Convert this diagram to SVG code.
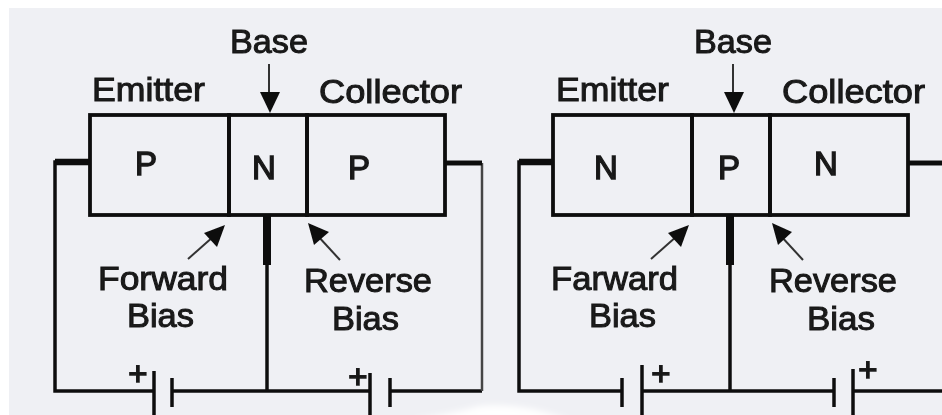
<svg xmlns="http://www.w3.org/2000/svg" width="942" height="415" viewBox="0 0 942 415">
<style>
.w{fill:none;stroke:#111;stroke-width:3.5}
.b{fill:none;stroke:#111;stroke-width:3.8}
.t{font-family:"Liberation Sans",Arial,sans-serif;font-size:33px;fill:#1a1a1a;stroke:#1a1a1a;stroke-width:1;text-anchor:middle}
.s{stroke-width:1.4;font-size:33px}
.h{fill:#111}
.a{stroke:#333;stroke-width:2;fill:none}
</style>
<defs>
<filter id="bl" x="-10%" y="-10%" width="120%" height="120%"><feGaussianBlur stdDeviation="0.5"/></filter>
<filter id="sw" x="-10%" y="-50%" width="120%" height="200%"><feGaussianBlur stdDeviation="3"/></filter>
</defs>
<rect width="942" height="415" fill="#fff"/>
<rect x="9" y="8" width="933" height="407" fill="#eff0f4"/>
<path d="M410 420 Q450 414 480 406 Q520 402 570 420Z" fill="#fff" filter="url(#sw)"/>
<g filter="url(#bl)">
<g id="connectors">
<path class="w" d="M90 162H55V391H153M172 391H371M390 391H482"/>
<path d="M482 391V163" fill="none" stroke="#444" stroke-width="2.500"/>
<path d="M55 162H90" stroke="#111" stroke-width="6.5" fill="none"/>
<path class="w" d="M267 215V391"/>
<path d="M267 215V265" stroke="#111" stroke-width="8" fill="none"/>
<path d="M269 64V95" class="a"/><path class="h" d="M260 92H280L270 113Z"/>
<path d="M188 259L214 236" class="a"/><path class="h" d="M225 225L204 233L217 247Z"/>
<path d="M340 260L317 235" class="a"/><path class="h" d="M308 223L314 245L329 232Z"/>
<path class="w" d="M553 162H519V391H622M642 391H834M853 391H942"/>
<path d="M519 162H553" stroke="#111" stroke-width="6.5" fill="none"/>
<path class="w" d="M908 163H942" style="stroke-width:5"/>
<path class="w" d="M445 163H482" style="stroke-width:5"/>
<path class="w" d="M730 215V391"/>
<path d="M730 215V265" stroke="#111" stroke-width="8" fill="none"/>
<path d="M733 64V95" class="a"/><path class="h" d="M724 92H744L734 113Z"/>
<path d="M651 259L677 236" class="a"/><path class="h" d="M689 225L668 233L681 247Z"/>
<path d="M803 260L780 235" class="a"/><path class="h" d="M772 223L778 245L792 232Z"/>
</g>
<g id="left-emitter"><rect x="90" y="115" width="139" height="100" class="b"/><text class="t s" x="146" y="175">P</text><text class="t" x="148.500" y="101" textLength="113" lengthAdjust="spacingAndGlyphs">Emitter</text></g>
<g id="left-base"><rect x="229" y="115" width="78" height="100" class="b"/><text class="t s" x="264" y="179">N</text><text class="t" x="269" y="53" textLength="78" lengthAdjust="spacingAndGlyphs">Base</text></g>
<g id="left-collector"><rect x="307" y="115" width="138" height="100" class="b"/><text class="t s" x="359" y="179">P</text><text class="t" x="390.500" y="103" textLength="143" lengthAdjust="spacingAndGlyphs">Collector</text></g>
<g id="left-forward-bias"><text class="t" x="163" y="290" textLength="130" lengthAdjust="spacingAndGlyphs">Forward</text><text class="t" x="160.500" y="327" textLength="67" lengthAdjust="spacingAndGlyphs">Bias</text></g>
<g id="left-reverse-bias"><text class="t" x="368" y="292" textLength="128" lengthAdjust="spacingAndGlyphs">Reverse</text><text class="t" x="365.500" y="330" textLength="67" lengthAdjust="spacingAndGlyphs">Bias</text></g>
<g id="left-battery-1"><path class="w" d="M154 371V415M172 378V407"/><text class="t s" x="138" y="385">+</text></g>
<g id="left-battery-2"><path class="w" d="M370 373V415M390 378V407"/><text class="t s" x="358" y="388">+</text></g>
<g id="right-emitter"><rect x="553" y="115" width="139" height="100" class="b"/><text class="t s" x="606" y="179">N</text><text class="t" x="612.500" y="101" textLength="113" lengthAdjust="spacingAndGlyphs">Emitter</text></g>
<g id="right-base"><rect x="692" y="115" width="78" height="100" class="b"/><text class="t s" x="729" y="179">P</text><text class="t" x="733" y="53" textLength="78" lengthAdjust="spacingAndGlyphs">Base</text></g>
<g id="right-collector"><rect x="770" y="115" width="138" height="100" class="b"/><text class="t s" x="826" y="175">N</text><text class="t" x="853.500" y="103" textLength="143" lengthAdjust="spacingAndGlyphs">Collector</text></g>
<g id="right-forward-bias"><text class="t" x="614.500" y="290" textLength="127" lengthAdjust="spacingAndGlyphs">Farward</text><text class="t" x="622.500" y="327" textLength="67" lengthAdjust="spacingAndGlyphs">Bias</text></g>
<g id="right-reverse-bias"><text class="t" x="833" y="292" textLength="128" lengthAdjust="spacingAndGlyphs">Reverse</text><text class="t" x="841" y="330" textLength="68" lengthAdjust="spacingAndGlyphs">Bias</text></g>
<g id="right-battery-1"><path class="w" d="M622 378V407M642 365V415"/><text class="t s" x="661" y="385">+</text></g>
<g id="right-battery-2"><path class="w" d="M834 378V407M853 369V415"/><text class="t s" x="868" y="381">+</text></g>
</g>
</svg>
